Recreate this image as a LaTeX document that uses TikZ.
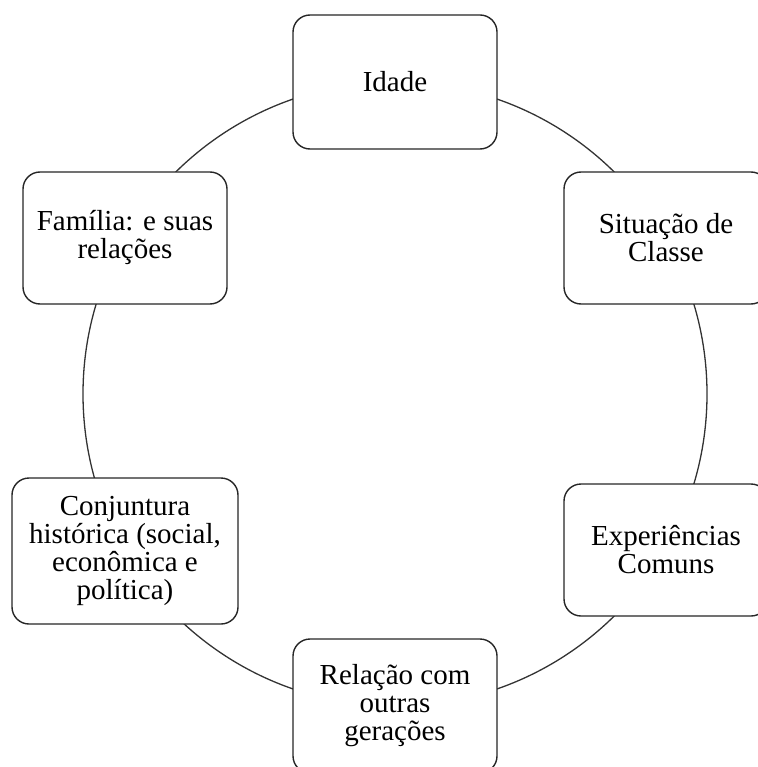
\documentclass[tikz,border=0pt]{standalone}
\usepackage{fontspec}
\setmainfont{Liberation Serif}
\begin{document}
\begin{tikzpicture}[x=1pt,y=-1pt,
  cyclebox/.style={draw=black!85, line width=1.4pt, fill=white, rounded corners=17pt,
    minimum width=204pt, minimum height=132pt, inner sep=0pt, align=center,
    font=\fontsize{29}{28}\selectfont, text=black},
  ring/.style={draw=black!80, line width=1.3pt}]
\useasboundingbox (0,0) rectangle (757,767);
\coordinate (c) at (395,394);
\draw[ring] (c) circle (312);
\node[cyclebox, minimum height=134pt] (idade) at (395,82) {Idade};
\node[cyclebox] (classe) at (666,238) {Situação de\\Classe};
\node[cyclebox] (exp) at (666,550) {Experiências\\Comuns};
\node[cyclebox, minimum height=134pt] (rel) at (395,706) {Relação com\\outras\\gerações};
\node[cyclebox, minimum width=226pt, minimum height=146pt] (conj) at (125,551) {Conjuntura\\histórica (social,\\econômica e\\política)};
\node[cyclebox] (fam) at (125,238) {Família: e suas\\relações};
\end{tikzpicture}
\end{document}
